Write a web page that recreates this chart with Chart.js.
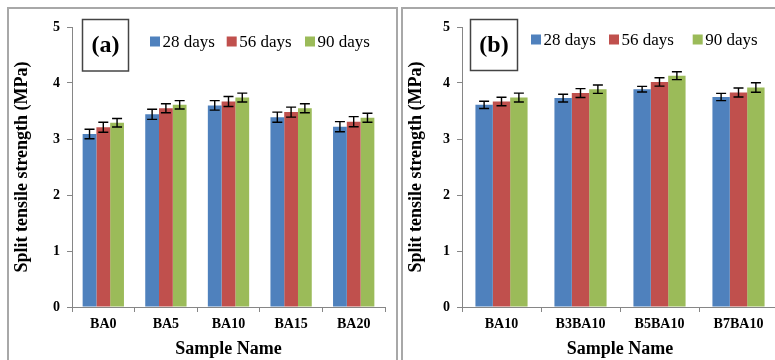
<!DOCTYPE html>
<html>
<head>
<meta charset="utf-8">
<script src="https://cdn.jsdelivr.net/npm/chart.js@4.4.1/dist/chart.umd.min.js"></script>
<style>
  html, body { margin: 0; padding: 0; background: #fff; width: 775px; height: 360px; overflow: hidden; position: relative; }
  .panel { position: absolute; border: 2px solid #a8a8a8; box-sizing: border-box; }
  canvas { position: absolute; top: 0; }
</style>
</head>
<body>
<div class="panel" style="left:7px; top:7px; width:391px; height:380px;"></div>
<div class="panel" style="left:401px; top:7px; width:400px; height:380px;"></div>
<canvas id="chartA" width="400" height="360" style="left:0px;"></canvas>
<canvas id="chartB" width="378" height="360" style="left:400px;"></canvas>
<script>
// ---- Data ----
const seriesLabels = ['28 days', '56 days', '90 days'];
const seriesColors = ['#4F81BD', '#C0504D', '#9BBB59'];
const yMin = 0, yMax = 5, yStep = 1;

const categoriesA = ['BA0', 'BA5', 'BA10', 'BA15', 'BA20'];
const days28A = [3.09, 3.44, 3.60, 3.39, 3.22];
const days56A = [3.21, 3.55, 3.67, 3.48, 3.31];
const days90A = [3.29, 3.61, 3.74, 3.55, 3.38];
const err28A = [0.085, 0.09, 0.085, 0.09, 0.09];
const err56A = [0.09, 0.08, 0.09, 0.09, 0.09];
const err90A = [0.075, 0.075, 0.08, 0.08, 0.08];

const categoriesB = ['BA10', 'B3BA10', 'B5BA10', 'B7BA10'];
const days28B = [3.61, 3.73, 3.89, 3.75];
const days56B = [3.67, 3.82, 4.02, 3.83];
const days90B = [3.74, 3.89, 4.13, 3.92];
const err28B = [0.065, 0.07, 0.05, 0.065];
const err56B = [0.075, 0.08, 0.075, 0.08];
const err90B = [0.08, 0.075, 0.07, 0.085];

const yTitle = 'Split tensile strength (MPa)';
const xTitle = 'Sample Name';

const FONT = "'Liberation Serif', 'Times New Roman', serif";

// ---- Plugins ----
const errorBarPlugin = {
  id: 'errorBars',
  afterDatasetsDraw(chart) {
    const ctx = chart.ctx;
    const ys = chart.scales.y;
    ctx.save();
    ctx.strokeStyle = '#000';
    ctx.lineWidth = 1.4;
    chart.data.datasets.forEach((ds, i) => {
      const meta = chart.getDatasetMeta(i);
      meta.data.forEach((bar, j) => {
        const v = ds.data[j], e = ds.errors[j];
        const yt = ys.getPixelForValue(v + e);
        const yb = ys.getPixelForValue(v - e);
        const x = bar.x, cap = 5;
        ctx.beginPath();
        ctx.moveTo(x, yt); ctx.lineTo(x, yb);
        ctx.moveTo(x - cap, yt); ctx.lineTo(x + cap, yt);
        ctx.moveTo(x - cap, yb); ctx.lineTo(x + cap, yb);
        ctx.stroke();
      });
    });
    ctx.restore();
  }
};

const panelDecor = {
  id: 'panelDecor',
  afterDraw(chart, args, opts) {
    const ctx = chart.ctx;
    ctx.save();
    // label box
    const b = opts.box;
    ctx.strokeStyle = '#444';
    ctx.lineWidth = 1.5;
    ctx.strokeRect(b.x, b.y, b.w, b.h);
    ctx.fillStyle = '#000';
    ctx.font = "bold 24px " + FONT;
    ctx.textAlign = 'center';
    ctx.textBaseline = 'middle';
    ctx.fillText(opts.tag, b.x + b.w / 2, b.y + b.h / 2 + 1);
    // legend
    ctx.font = "17px " + FONT;
    ctx.textAlign = 'left';
    ctx.textBaseline = 'alphabetic';
    chart.data.datasets.forEach((ds, i) => {
      const x = opts.legendX[i], y = opts.legendY;
      ctx.fillStyle = ds.backgroundColor;
      ctx.fillRect(x, y - 10, 10, 10);
      ctx.fillStyle = '#000';
      ctx.fillText(ds.label, x + 12.5, y);
    });
    ctx.restore();
  }
};

function makeChart(id, cats, vals, errs, pad, yWidth, decor) {
  const datasets = vals.map((v, i) => ({
    label: seriesLabels[i],
    data: v,
    errors: errs[i],
    backgroundColor: seriesColors[i],
    borderWidth: 0,
    categoryPercentage: 0.66,
    barPercentage: 1.0
  }));
  return new Chart(document.getElementById(id), {
    type: 'bar',
    data: { labels: cats, datasets },
    options: {
      responsive: false,
      animation: false,
      devicePixelRatio: 1,
      layout: { padding: pad },
      plugins: {
        legend: { display: false },
        tooltip: { enabled: false },
        panelDecor: decor
      },
      scales: {
        x: {
          grid: { display: true, drawOnChartArea: false, tickLength: 5, color: '#868686', offset: true },
          border: { color: '#868686', width: 1 },
          ticks: { color: '#000', font: { family: FONT, size: 14, weight: 'bold' }, padding: 4, maxRotation: 0 },
          title: { display: true, text: xTitle, color: '#000', font: { family: FONT, size: 18, weight: 'bold' }, padding: { top: 0, bottom: 0 } },
          afterFit: s => { s.height = 53; }
        },
        y: {
          min: yMin, max: yMax,
          grid: { display: true, drawOnChartArea: false, tickLength: 5, color: '#868686' },
          border: { color: '#868686', width: 1 },
          ticks: { stepSize: yStep, color: '#000', font: { family: FONT, size: 14, weight: 'bold' }, padding: 7 },
          title: { display: true, text: yTitle, color: '#000', font: { family: FONT, size: 18, weight: 'bold' }, padding: { top: 4, bottom: 0 } },
          afterFit: s => { s.width = yWidth; }
        }
      }
    },
    plugins: [errorBarPlugin, panelDecor]
  });
}

makeChart('chartA', categoriesA, [days28A, days56A, days90A], [err28A, err56A, err90A],
  { left: 8, top: 27, right: 15, bottom: 0 }, 64,
  { tag: '(a)', box: { x: 82.5, y: 19.5, w: 46, h: 51.5 }, legendX: [150, 226.7, 305], legendY: 46.5 });

makeChart('chartB', categoriesB, [days28B, days56B, days90B], [err28B, err56B, err90B],
  { left: 2, top: 27, right: 0, bottom: 0 }, 60,
  { tag: '(b)', box: { x: 70.5, y: 19.5, w: 47, h: 51 }, legendX: [131, 209, 292.7], legendY: 44.5 });
</script>
</body>
</html>
